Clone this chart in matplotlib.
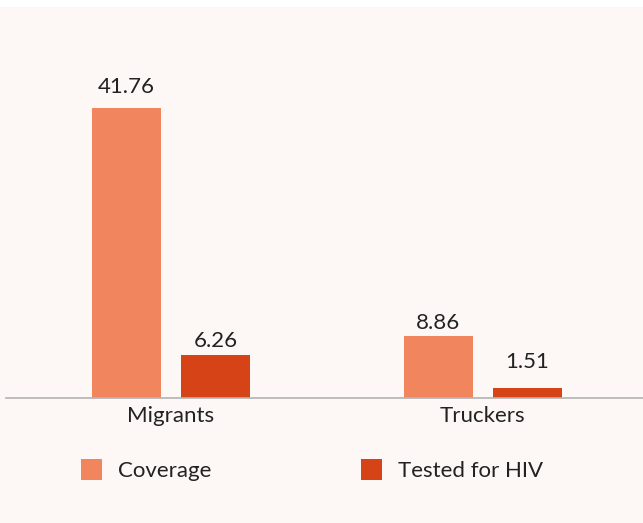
import matplotlib.pyplot as plt
from matplotlib.patches import Patch, Rectangle
import numpy as np

categories = ["Migrants", "Truckers"]
series_names = ["Coverage", "Tested for HIV"]
coverage = [41.76, 8.86]
tested = [6.26, 1.51]

col_cov = "#f1855d"
col_test = "#d64316"
bg = "#fdf8f5"
txt = "#222222"

plt.rcParams['font.family'] = ['Lato', 'DejaVu Sans']

W, H = 643, 523
fig = plt.figure(figsize=(W / 100, H / 100), dpi=100, facecolor=bg)
# white strip on top
fig.patches.append(Rectangle((0, 1 - 7 / H), 1, 7 / H, transform=fig.transFigure,
                             facecolor="white", edgecolor="none", zorder=0))

base_y = 398
top_y = 7
ax = fig.add_axes([0, (H - base_y) / H, 1, (base_y - top_y) / H])
ax.set_facecolor("none")

group_px = 311.5
x = np.arange(len(categories))
width = 69 / group_px
off = 44.5 / group_px

b1 = ax.bar(x - off, coverage, width, color=col_cov, label=series_names[0])
b2 = ax.bar(x + off, tested, width, color=col_test, label=series_names[1])

# gap (px) between bar top and its label, as placed in the original
gaps = [[15, 7], [8, 20]]
for bars, vals, g in ((b1, coverage, gaps[0]), (b2, tested, gaps[1])):
    for r, v, gp in zip(bars, vals, g):
        ax.annotate(f"{v:.2f}", (r.get_x() + r.get_width() / 2, v),
                    xytext=(0, gp * 0.72), textcoords="offset points",
                    ha="center", va="baseline", fontsize=16, color=txt)

ax.set_xlim(-171 / group_px, (W - 171) / group_px)
px_per_unit = 290 / 41.76
ax.set_ylim(0, (base_y - top_y) / px_per_unit)

ax.set_xticks(x)
ax.set_xticklabels(categories, fontsize=16, color=txt)
ax.tick_params(axis="x", length=0, pad=6)
ax.set_yticks([])
for s in ["top", "right", "left"]:
    ax.spines[s].set_visible(False)
ax.spines["bottom"].set_color("#b3b3b3")
ax.spines["bottom"].set_linewidth(1.2)
ax.spines["bottom"].set_bounds(6 / group_px - 171 / group_px, (W - 171) / group_px)

handles = [Patch(facecolor=col_cov), Patch(facecolor=col_test)]
fig.legend(handles, series_names, loc="center left",
           bbox_to_anchor=(81 / W, 1 - 470 / H), frameon=False,
           ncol=2, fontsize=16, handlelength=0.95, handleheight=1.05,
           handletextpad=0.7, columnspacing=6.75, borderpad=0,
           borderaxespad=0, labelcolor=txt)

fig.savefig("out.png", dpi=100, facecolor=bg)
